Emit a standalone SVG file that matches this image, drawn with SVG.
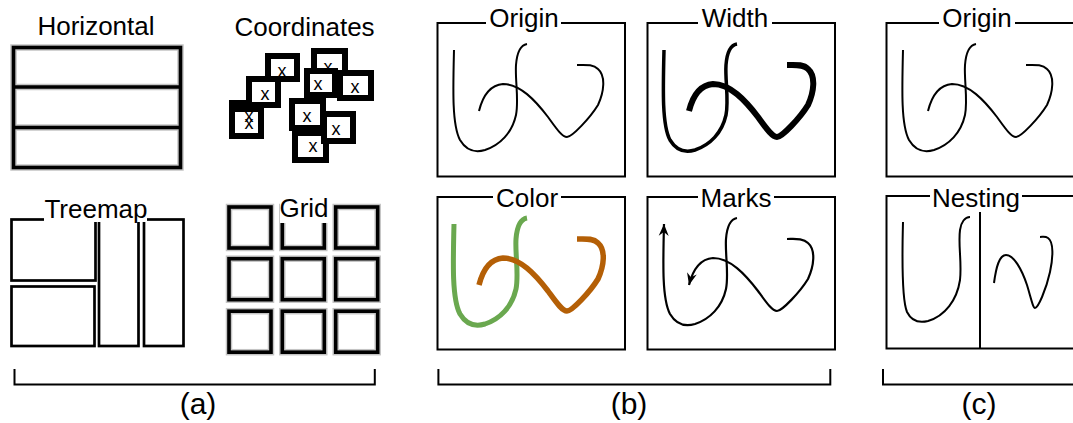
<svg xmlns="http://www.w3.org/2000/svg" width="1073" height="423" viewBox="0 0 1073 423">
<style>
text{font-family:"Liberation Sans",Arial,sans-serif;fill:#000}
.t{font-size:26px;text-anchor:middle}
.lab{font-size:30px;text-anchor:middle}
.xl{font-size:18px;text-anchor:middle}
.frame{fill:none;stroke:#000;stroke-width:2}
.bg{fill:#fff;stroke:none}
.halo{fill:none;stroke:#c4c4c4;stroke-width:6.5}
.hard{fill:none;stroke:#000;stroke-width:3.6}
.tm{fill:none;stroke:#000;stroke-width:2.7}
.cb{fill:#fff;stroke:#000;stroke-width:6}
.crv{fill:none;stroke:#000;stroke-width:2;stroke-linecap:butt}
.brk{fill:none;stroke:#000;stroke-width:2}
</style>
<defs>
<path id="c1" d="M454,50 C453,90 452,125 460,140 C466,150 475,153 485,150 C500,145 512,133 516,115 C519,100 515,80 516,65 C517,52 521,45 527,44"/>
<path id="c2" d="M479,111 C483,95 490,85 503,84 C520,84 535,100 548,117 C556,128 562,137 567,137 C572,137 590,118 598,105 C604,92 606,76 598,69 C593,64 585,65 577,65"/>
<marker id="ah" viewBox="-13 -6 14 12" refX="0" refY="0" markerWidth="14" markerHeight="12" markerUnits="userSpaceOnUse" orient="auto-start-reverse">
<path d="M0,0 L-12,-5 L-8,0 L-12,5 Z" fill="#000"/>
</marker>
</defs>

<g id="horizontal">
<text class="t" x="96" y="35">Horizontal</text>
<rect class="halo" x="13.5" y="47.5" width="167" height="120"/>
<line class="halo" x1="13.5" y1="87" x2="180.5" y2="87"/>
<line class="halo" x1="13.5" y1="127.5" x2="180.5" y2="127.5"/>
<rect class="hard" x="13.5" y="47.5" width="167" height="120"/>
<line class="hard" x1="13.5" y1="87" x2="180.5" y2="87"/>
<line class="hard" x1="13.5" y1="127.5" x2="180.5" y2="127.5"/>
</g>

<g id="coordinates">
<text class="t" x="304.5" y="36">Coordinates</text>
<rect class="cb" x="232" y="103" width="29" height="27"/>
<rect class="cb" x="232" y="109" width="29" height="27"/>
<rect class="cb" x="249" y="79" width="29" height="26"/>
<rect class="cb" x="268" y="56" width="29" height="23"/>
<rect class="cb" x="314" y="51" width="31" height="22"/>
<rect class="cb" x="307" y="71" width="28" height="24"/>
<rect class="cb" x="340" y="73" width="31" height="25"/>
<rect class="cb" x="292" y="101" width="31" height="27"/>
<rect class="cb" x="295" y="133" width="31" height="27"/>
<rect class="cb" x="324" y="114" width="29" height="27"/>
<text class="xl" x="282" y="77">x</text>
<text class="xl" x="328" y="73">x</text>
<text class="xl" x="318" y="90">x</text>
<text class="xl" x="355" y="93">x</text>
<text class="xl" x="265" y="100">x</text>
<text class="xl" x="249" y="122">x</text>
<text class="xl" x="249" y="129">x</text>
<text class="xl" x="307" y="122">x</text>
<text class="xl" x="336" y="135">x</text>
<text class="xl" x="313" y="152">x</text>
</g>

<g id="treemap">
<rect class="tm" x="11.5" y="219.5" width="84" height="61"/>
<rect class="tm" x="11.5" y="286.5" width="83" height="59.5"/>
<rect class="tm" x="99" y="219.5" width="39.5" height="126.5"/>
<rect class="tm" x="144" y="219.5" width="39.5" height="126.5"/>
<rect class="bg" x="44" y="196" width="103" height="26"/>
<text class="t" x="96" y="218">Treemap</text>
</g>

<g id="grid">
<g class="halo">
<rect x="229" y="207" width="42" height="41"/><rect x="282.3" y="207" width="42" height="41"/><rect x="335.7" y="207" width="42" height="41"/>
<rect x="229" y="258.7" width="42" height="41"/><rect x="282.3" y="258.7" width="42" height="41"/><rect x="335.7" y="258.7" width="42" height="41"/>
<rect x="229" y="311.2" width="42" height="41"/><rect x="282.3" y="311.2" width="42" height="41"/><rect x="335.7" y="311.2" width="42" height="41"/>
</g>
<g class="hard">
<rect x="229" y="207" width="42" height="41"/><rect x="282.3" y="207" width="42" height="41"/><rect x="335.7" y="207" width="42" height="41"/>
<rect x="229" y="258.7" width="42" height="41"/><rect x="282.3" y="258.7" width="42" height="41"/><rect x="335.7" y="258.7" width="42" height="41"/>
<rect x="229" y="311.2" width="42" height="41"/><rect x="282.3" y="311.2" width="42" height="41"/><rect x="335.7" y="311.2" width="42" height="41"/>
</g>
<rect class="bg" x="280" y="197" width="48" height="26"/>
<text class="t" x="304" y="217">Grid</text>
</g>

<g id="b-origin">
<rect class="frame" x="437.5" y="23" width="187.5" height="153.5"/>
<rect class="bg" x="486" y="5" width="75" height="22"/>
<text class="t" x="524" y="26.5">Origin</text>
<use href="#c1" class="crv"/>
<use href="#c2" class="crv"/>
</g>

<g id="b-width">
<rect class="frame" x="647.5" y="23" width="187.5" height="153.5"/>
<rect class="bg" x="698" y="5" width="74" height="22"/>
<text class="t" x="735" y="26.5">Width</text>
<g transform="translate(210,0)">
<use href="#c1" class="crv" style="stroke-width:3.5"/>
<use href="#c2" class="crv" style="stroke-width:6"/>
</g>
</g>

<g id="b-color">
<rect class="frame" x="437.5" y="197" width="187.5" height="152.5"/>
<rect class="bg" x="493" y="180" width="68" height="21"/>
<text class="t" x="527" y="207">Color</text>
<g transform="translate(0,174)">
<use href="#c1" class="crv" style="stroke:#6aa84f;stroke-width:5"/>
<use href="#c2" class="crv" style="stroke:#b45f06;stroke-width:5.5"/>
</g>
</g>

<g id="b-marks">
<rect class="frame" x="647.5" y="197" width="187.5" height="152.5"/>
<rect class="bg" x="698" y="180" width="76" height="21"/>
<text class="t" x="736" y="207">Marks</text>
<g transform="translate(210,174)">
<use href="#c1" class="crv" style="stroke-width:2.2;marker-start:url(#ah)"/>
<use href="#c2" class="crv" style="stroke-width:2.2;marker-start:url(#ah)"/>
</g>
</g>

<g id="c-origin">
<rect class="frame" x="886.5" y="23" width="200" height="153.5"/>
<rect class="bg" x="939" y="5" width="76" height="22"/>
<text class="t" x="977" y="26.5">Origin</text>
<g transform="translate(449,0)">
<use href="#c1" class="crv"/>
<use href="#c2" class="crv"/>
</g>
</g>

<g id="c-nesting">
<rect class="frame" x="886.5" y="196" width="200" height="152.5"/>
<line class="frame" x1="980" y1="212" x2="980" y2="348.5"/>
<rect class="bg" x="930" y="180" width="92" height="31"/>
<text class="t" x="976" y="207">Nesting</text>
<path class="crv" d="M903,222 C902,260 902,300 907,312 C912,322 920,323 928,321 C945,316 957,300 960,280 C962,262 958,245 960,230 C961,222 965,217 970,217"/>
<path class="crv" d="M994,283 C996,268 999,255 1006,255 C1014,255 1022,270 1027,285 C1031,298 1033,308 1035,308 C1038,308 1046,290 1050,272 C1053,258 1054,242 1048,238 C1045,236 1043,237 1040,237"/>
</g>

<g id="connectors">
<path class="brk" d="M14.5,369 V384.5 H374.8 V369"/>
<path class="brk" d="M438.4,369 V384.5 H830.3 V369"/>
<path class="brk" d="M883,369 V384.5 H1080"/>
</g>

<g id="labels">
<text class="lab" x="198" y="414">(a)</text>
<text class="lab" x="629" y="414">(b)</text>
<text class="lab" x="979" y="414">(c)</text>
</g>
</svg>
